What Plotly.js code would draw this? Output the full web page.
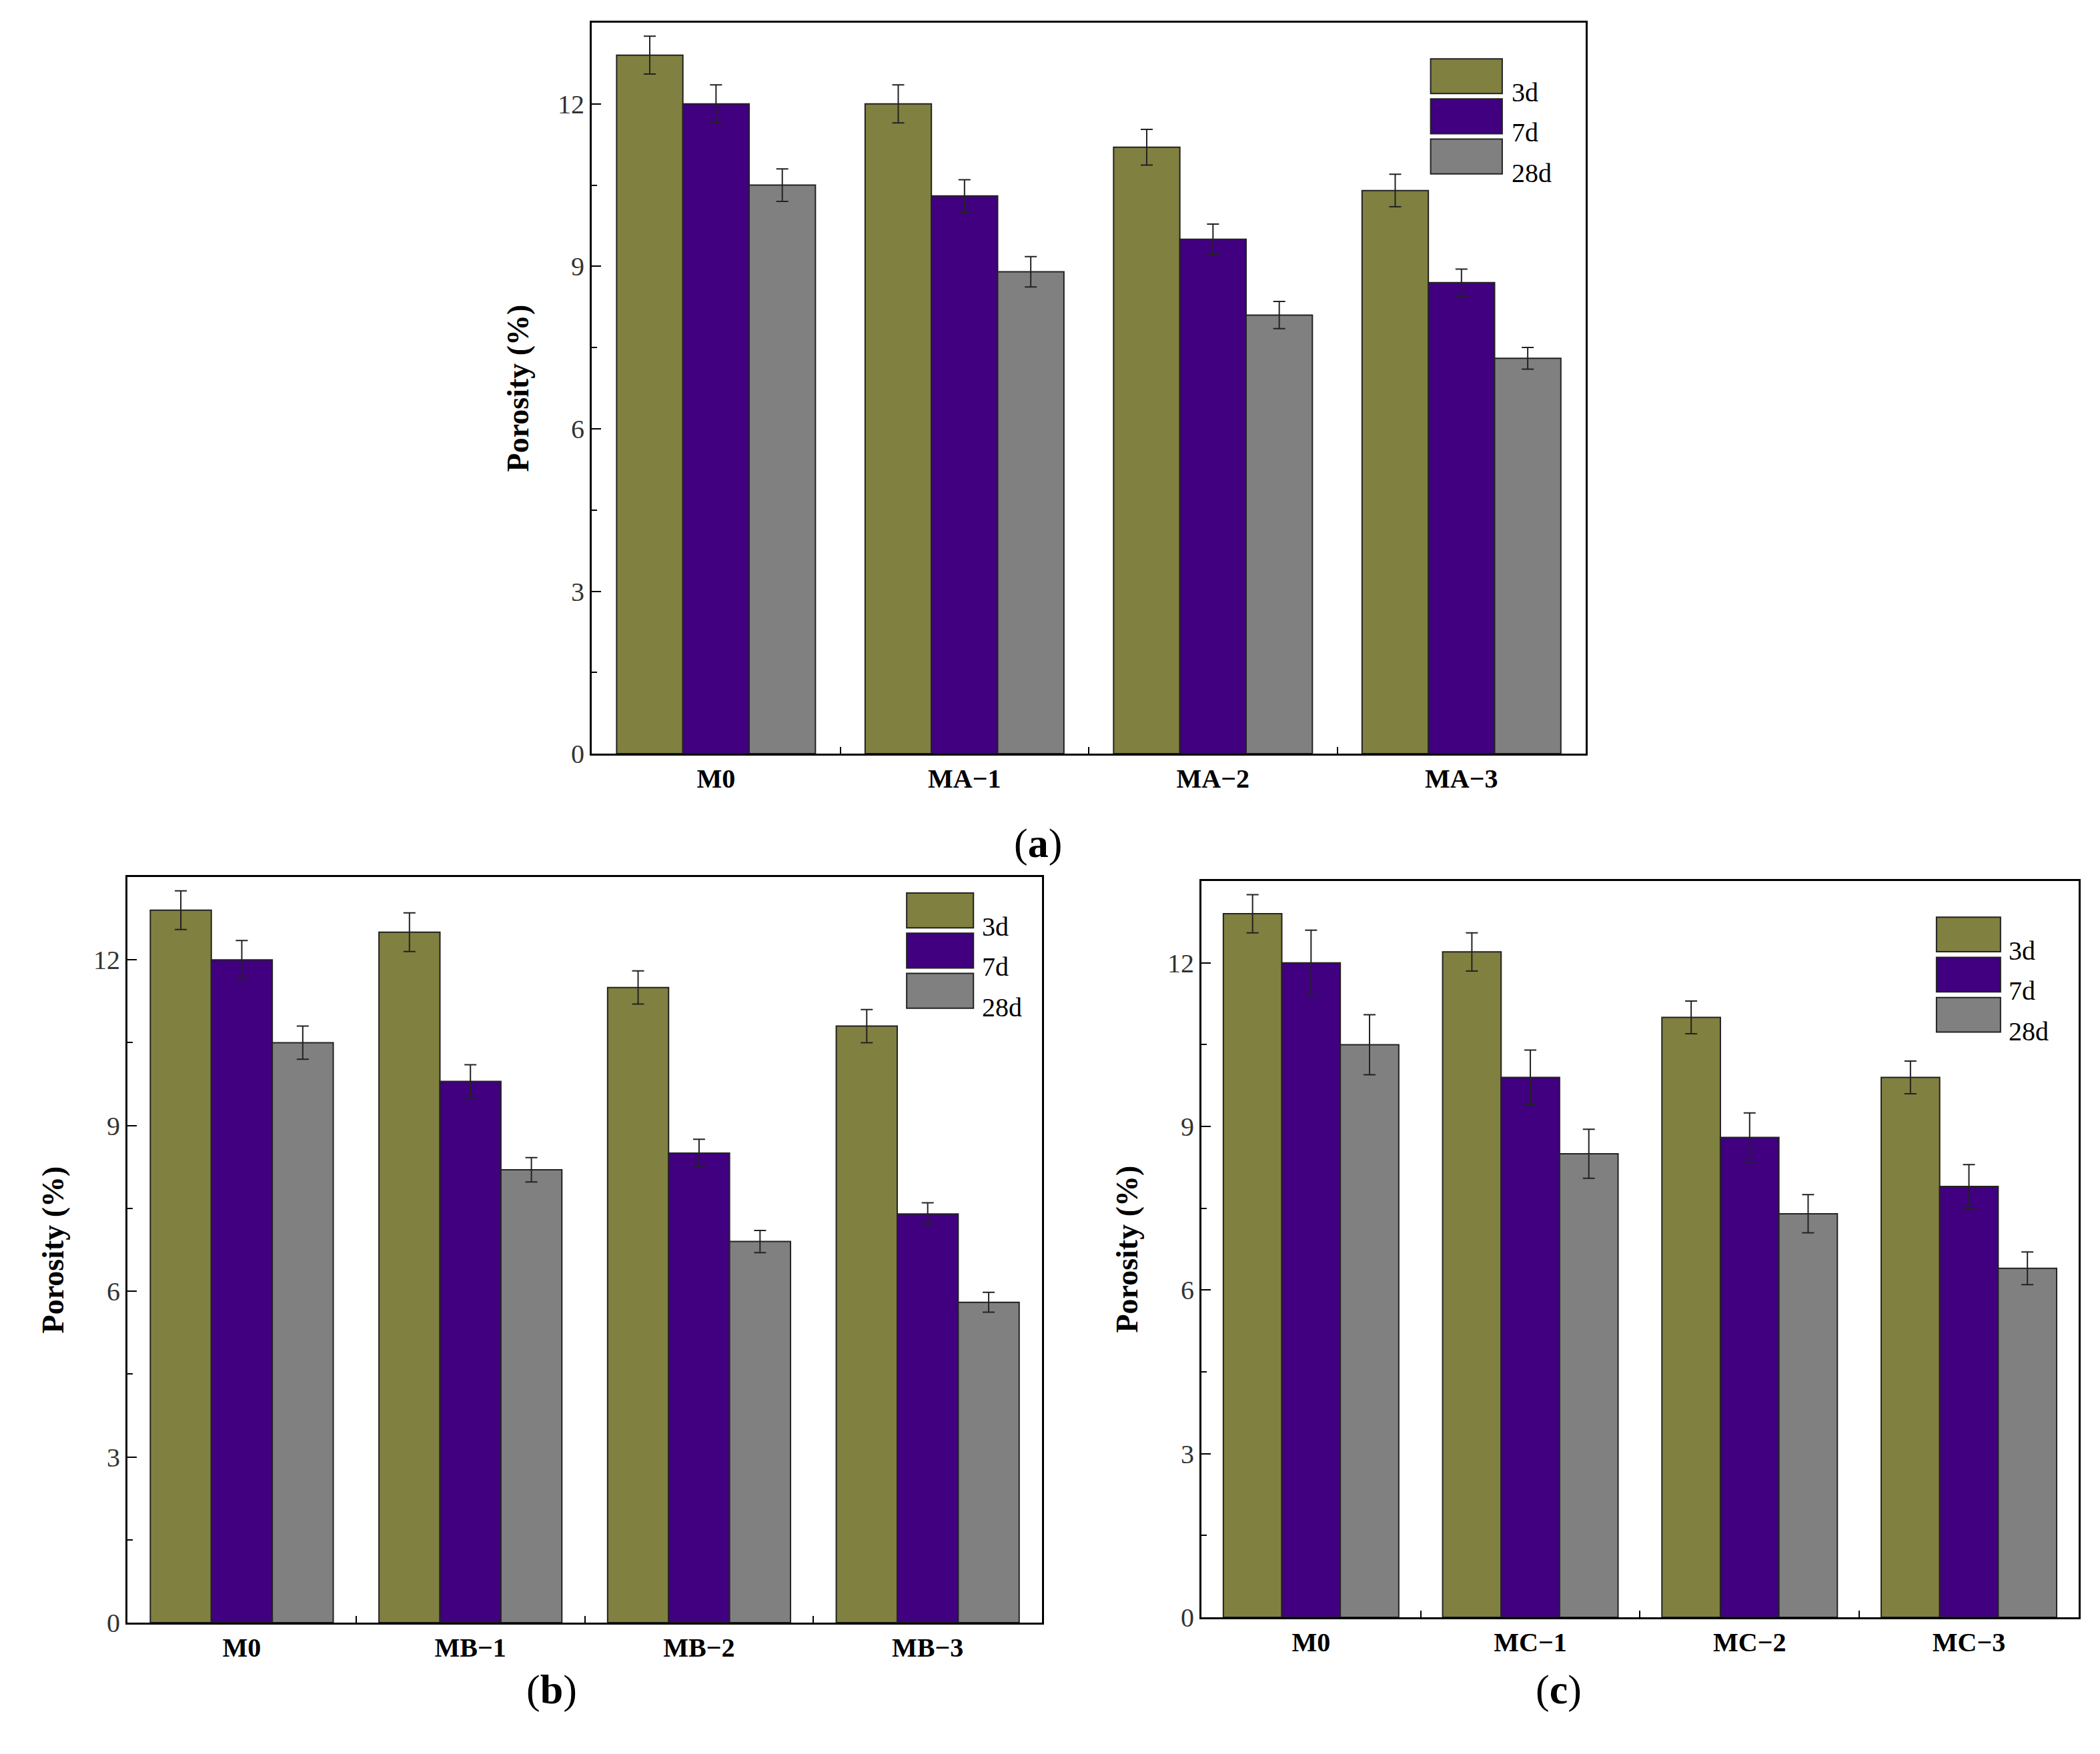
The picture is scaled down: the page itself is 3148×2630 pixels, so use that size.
<!DOCTYPE html>
<html>
<head>
<meta charset="utf-8">
<script src="https://cdn.plot.ly/plotly-3.0.1.min.js"></script>
<style>body{margin:0;background:#fff}#chart{width:3148px;height:2630px}</style>
</head>
<body>
<div id="chart"></div>
<script>
// Series names and colours
var seriesNames = ['3d', '7d', '28d'];
var seriesColors = ['#808040', '#400080', '#808080'];

// Panel (a)
var catsA = ['M0', 'MA\u22121', 'MA\u22122', 'MA\u22123'];
var a3d = [12.9, 12.0, 11.2, 10.4];
var a7d = [12.0, 10.3, 9.5, 8.7];
var a28d = [10.5, 8.9, 8.1, 7.3];
var a3dErr = [0.35, 0.35, 0.33, 0.3];
var a7dErr = [0.35, 0.3, 0.28, 0.25];
var a28dErr = [0.3, 0.28, 0.25, 0.2];

// Panel (b)
var catsB = ['M0', 'MB\u22121', 'MB\u22122', 'MB\u22123'];
var b3d = [12.9, 12.5, 11.5, 10.8];
var b7d = [12.0, 9.8, 8.5, 7.4];
var b28d = [10.5, 8.2, 6.9, 5.8];
var b3dErr = [0.35, 0.35, 0.3, 0.3];
var b7dErr = [0.35, 0.3, 0.25, 0.2];
var b28dErr = [0.3, 0.22, 0.2, 0.18];

// Panel (c)
var catsC = ['M0', 'MC\u22121', 'MC\u22122', 'MC\u22123'];
var c3d = [12.9, 12.2, 11.0, 9.9];
var c7d = [12.0, 9.9, 8.8, 7.9];
var c28d = [10.5, 8.5, 7.4, 6.4];
var c3dErr = [0.35, 0.35, 0.3, 0.3];
var c7dErr = [0.6, 0.5, 0.45, 0.4];
var c28dErr = [0.55, 0.45, 0.35, 0.3];

var yTicks = [0, 3, 6, 9, 12];

var font = 'Liberation Serif, Times New Roman, serif';
var data = [];
var layout = {
    width: 3148, height: 2630,
    margin: {l: 0, r: 0, t: 0, b: 0},
    paper_bgcolor: '#fff', plot_bgcolor: '#fff',
    showlegend: false,
    barmode: 'group', bargap: 0.2, bargroupgap: 0,
    font: {family: font, color: '#000'},
    shapes: [], annotations: []
};

function addPanel(n, cats, vals, errs, xdom, ydom, legBox, caption) {
    var xa = 'x' + (n === 1 ? '' : n), ya = 'y' + (n === 1 ? '' : n);
    for (var i = 0; i < 3; i++) {
        data.push({
            type: 'bar', x: cats, y: vals[i], name: seriesNames[i],
            xaxis: xa, yaxis: ya,
            marker: {color: seriesColors[i], line: {color: '#222', width: 2}},
            error_y: {type: 'data', array: errs[i], color: '#222', thickness: 2, width: 9}
        });
    }
    var axisCommon = {showline: true, mirror: true, linecolor: '#000', linewidth: 3, showgrid: false, zeroline: false};
    layout['xaxis' + (n === 1 ? '' : n)] = Object.assign({}, axisCommon, {
        domain: xdom, anchor: ya, tickson: 'boundaries', ticks: 'inside', ticklen: 10,
        tickwidth: 2, tickcolor: '#000',
        tickfont: {family: font, size: 40, color: '#000', weight: 'bold'}
    });
    layout['yaxis' + (n === 1 ? '' : n)] = Object.assign({}, axisCommon, {
        domain: ydom, anchor: xa, range: [0, 13.5], tickvals: yTicks,
        ticks: 'inside', ticklen: 14, tickwidth: 2, tickcolor: '#000',
        minor: {dtick: 1.5, ticks: 'inside', ticklen: 8, tickwidth: 2, tickcolor: '#000'},
        tickfont: {family: font, size: 40, color: '#333'},
        title: {text: 'Porosity (%)', standoff: 30, font: {family: font, size: 46, weight: 'bold'}}
    });
    var xr = xa + ' domain', yr = ya + ' domain';
    for (var k = 0; k < 3; k++) {
        layout.shapes.push({
            type: 'rect', xref: xr, yref: yr,
            x0: legBox.x0, x1: legBox.x1,
            y0: legBox.top - legBox.h * (k + 1) - legBox.gap * k,
            y1: legBox.top - legBox.h * k - legBox.gap * k,
            fillcolor: seriesColors[k], line: {color: '#222', width: 2}
        });
        layout.annotations.push({
            xref: xr, yref: yr, x: legBox.x1 + 0.008,
            y: legBox.top - legBox.h * (k + 0.5) - legBox.gap * k,
            text: seriesNames[k], showarrow: false, xanchor: 'left',
            font: {family: font, size: 40, color: '#000'}
        });
    }
    layout.annotations.push({
        xref: 'paper', yref: 'paper', x: caption.x, y: caption.y, text: caption.t,
        showarrow: false, font: {family: font, size: 62, color: '#000'}
    });
}

addPanel(1, catsA, [a3d, a7d, a28d], [a3dErr, a7dErr, a28dErr],
    [0.2818, 0.7551], [0.5703, 0.9871],
    {x0: 0.844, x1: 0.916, top: 0.9505, h: 0.0476, gap: 0.0073},
    {x: 0.4943, y: 1 - 1265 / 2630, t: '(<b>a</b>)'});
addPanel(2, catsB, [b3d, b7d, b28d], [b3dErr, b7dErr, b28dErr],
    [0.0607, 0.4962], [0.0749, 0.5],
    {x0: 0.852, x1: 0.925, top: 0.9785, h: 0.0467, gap: 0.0072},
    {x: 0.25, y: 1 - 2570 / 2630, t: '(<b>b</b>)'});
addPanel(3, catsC, [c3d, c7d, c28d], [c3dErr, c7dErr, c28dErr],
    [0.5721, 0.9898], [0.0779, 0.4977],
    {x0: 0.838, x1: 0.911, top: 0.951, h: 0.047, gap: 0.0076},
    {x: 0.7538, y: 1 - 2570 / 2630, t: '(<b>c</b>)'});

Plotly.newPlot('chart', data, layout, {staticPlot: true});
</script>
</body>
</html>
